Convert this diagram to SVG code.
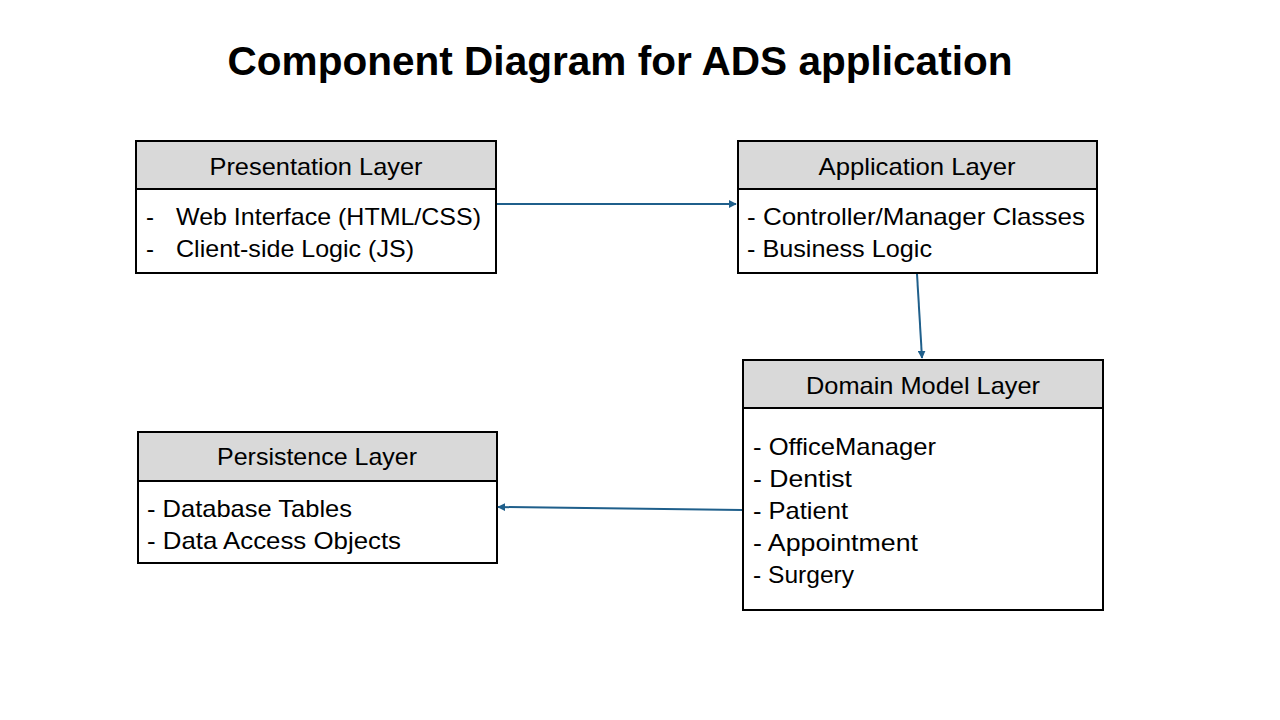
<svg xmlns="http://www.w3.org/2000/svg" width="1280" height="720" viewBox="0 0 1280 720">
<defs>
<marker id="arr" viewBox="0 0 10 10" refX="9" refY="5" markerWidth="4" markerHeight="4" orient="auto" markerUnits="strokeWidth">
<path d="M0,0 L10,5 L0,10 z" fill="#1f5f8b"/>
</marker>
<style>
.box{fill:#fff;stroke:#000;stroke-width:2}
.hdr{fill:#d9d9d9;stroke:#000;stroke-width:2}
.t{font-family:"Liberation Sans",Arial,sans-serif;font-size:24px;fill:#000}
.h{font-family:"Liberation Sans",Arial,sans-serif;font-size:24px;fill:#000;text-anchor:middle}
.title{font-family:"Liberation Sans",Arial,sans-serif;font-size:40px;font-weight:bold;fill:#000;text-anchor:middle}
.c{stroke:#1f5f8b;stroke-width:2;fill:none;marker-end:url(#arr)}
</style>
</defs>
<rect width="1280" height="720" fill="#fff"/>
<text class="title" x="620" y="75" textLength="785" lengthAdjust="spacingAndGlyphs">Component Diagram for ADS application</text>
<g id="presentation">
<rect class="box" x="136" y="141" width="360" height="132"/>
<rect class="hdr" x="136" y="141" width="360" height="48"/>
<text class="h" x="316" y="175" textLength="213" lengthAdjust="spacingAndGlyphs">Presentation Layer</text>
<text class="t" x="146" y="225">-</text><text class="t" x="176" y="225" textLength="305" lengthAdjust="spacingAndGlyphs">Web Interface (HTML/CSS)</text>
<text class="t" x="146" y="257">-</text><text class="t" x="176" y="257" textLength="238" lengthAdjust="spacingAndGlyphs">Client-side Logic (JS)</text>
</g>
<g id="application">
<rect class="box" x="738" y="141" width="359" height="132"/>
<rect class="hdr" x="738" y="141" width="359" height="48"/>
<text class="h" x="917" y="175" textLength="197" lengthAdjust="spacingAndGlyphs">Application Layer</text>
<text class="t" x="747" y="225" textLength="338" lengthAdjust="spacingAndGlyphs">- Controller/Manager Classes</text>
<text class="t" x="747" y="257" textLength="185" lengthAdjust="spacingAndGlyphs">- Business Logic</text>
</g>
<g id="domain">
<rect class="box" x="743" y="360" width="360" height="250"/>
<rect class="hdr" x="743" y="360" width="360" height="48"/>
<text class="h" x="923" y="394" textLength="234" lengthAdjust="spacingAndGlyphs">Domain Model Layer</text>
<text class="t" x="753" y="455" textLength="183" lengthAdjust="spacingAndGlyphs">- OfficeManager</text>
<text class="t" x="753" y="487" textLength="99" lengthAdjust="spacingAndGlyphs">- Dentist</text>
<text class="t" x="753" y="519" textLength="95" lengthAdjust="spacingAndGlyphs">- Patient</text>
<text class="t" x="753" y="551" textLength="165" lengthAdjust="spacingAndGlyphs">- Appointment</text>
<text class="t" x="753" y="583" textLength="101" lengthAdjust="spacingAndGlyphs">- Surgery</text>
</g>
<g id="persistence">
<rect class="box" x="138" y="432" width="359" height="131"/>
<rect class="hdr" x="138" y="432" width="359" height="49"/>
<text class="h" x="317" y="465" textLength="200" lengthAdjust="spacingAndGlyphs">Persistence Layer</text>
<text class="t" x="147" y="517" textLength="205" lengthAdjust="spacingAndGlyphs">- Database Tables</text>
<text class="t" x="147" y="549" textLength="254" lengthAdjust="spacingAndGlyphs">- Data Access Objects</text>
</g>
<g id="connectors">
<line class="c" x1="497" y1="204" x2="736" y2="204"/>
<line class="c" x1="917" y1="274" x2="922" y2="358"/>
<line class="c" x1="742" y1="510" x2="498" y2="507"/>
</g>
</svg>
